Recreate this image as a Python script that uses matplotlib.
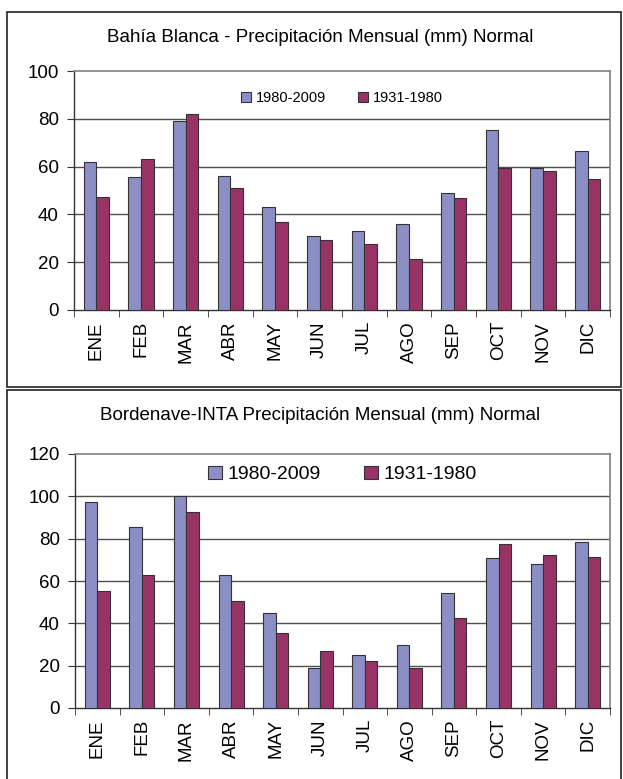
import matplotlib
matplotlib.use("Agg")
import matplotlib.pyplot as plt
from matplotlib.patches import Rectangle
import numpy as np

plt.rcParams['font.family'] = ['Liberation Sans', 'DejaVu Sans']

months = ["ENE", "FEB", "MAR", "ABR", "MAY", "JUN", "JUL", "AGO", "SEP", "OCT", "NOV", "DIC"]
series_names = ["1980-2009", "1931-1980"]

bahia_1980_2009 = [62, 55.6, 79, 56.2, 43, 30.8, 32.9, 36, 48.8, 75.3, 59.4, 66.4]
bahia_1931_1980 = [47.3, 63.2, 82.1, 50.9, 36.7, 29.3, 27.7, 21.3, 46.7, 59.4, 58.3, 54.7]

borde_1980_2009 = [97.3, 85.6, 100, 62.7, 44.8, 18.8, 25.2, 29.8, 54.5, 70.8, 67.8, 78.6]
borde_1931_1980 = [55.2, 62.7, 92.7, 50.6, 35.6, 27.0, 22.4, 18.8, 42.4, 77.5, 72.3, 71.3]

title_top = "Bahía Blanca - Precipitación Mensual (mm) Normal"
title_bot = "Bordenave-INTA Precipitación Mensual (mm) Normal"

c_blue = "#8c8fc6"
c_red = "#993366"

W, H = 623, 779
fig = plt.figure(figsize=(W / 100, H / 100), dpi=100)

def fx(x):
    return x / W

def fy(y):
    return 1 - y / H

# panel boxes
fig.patches.append(Rectangle((fx(7), fy(387)), fx(614), fy(12) - fy(387),
                             transform=fig.transFigure, fill=False, edgecolor='#222222', lw=1.2))
fig.patches.append(Rectangle((fx(7), fy(790)), fx(614), fy(390) - fy(790),
                             transform=fig.transFigure, fill=False, edgecolor='#222222', lw=1.2,
                             clip_on=False))


def panel(rect, v1, v2, ymax, ystep, title, title_y, legend_y, legend_fs):
    ax = fig.add_axes(rect)
    x = np.arange(len(months))
    bw = 0.28
    ax.bar(x - bw / 2, v1, bw, color=c_blue, edgecolor='#333333', lw=0.8, label=series_names[0], zorder=3)
    ax.bar(x + bw / 2, v2, bw, color=c_red, edgecolor='#333333', lw=0.8, label=series_names[1], zorder=3)
    ax.set_xlim(-0.5, len(months) - 0.5)
    ax.set_ylim(0, ymax)
    ticks = np.arange(0, ymax + 1, ystep)
    ax.set_yticks(ticks)
    ax.set_yticklabels([str(int(t)) for t in ticks], fontsize=13.5)
    for t in ticks[1:-1]:
        ax.axhline(t, color='#505050', lw=1.0, zorder=1)
    ax.set_xticks(x)
    ax.set_xticklabels(months, rotation=90, fontsize=13.5)
    ax.set_xticks(np.arange(-0.5, len(months)), minor=True)
    ax.tick_params(axis='x', which='major', length=0, pad=8)
    ax.tick_params(axis='x', which='minor', length=5, direction='out', color='#333333')
    ax.tick_params(axis='y', length=5, direction='out', color='#333333', pad=6)
    for s in ['top', 'right']:
        ax.spines[s].set_color('#808080')
        ax.spines[s].set_linewidth(1.2)
    for s in ['left', 'bottom']:
        ax.spines[s].set_color('#333333')
        ax.spines[s].set_linewidth(1.0)
    fig.text(fx(320), fy(title_y), title, ha='center', va='center', fontsize=13.5)
    ax.legend(loc='center', bbox_to_anchor=(0.5, legend_y), ncol=2, frameon=False,
              fontsize=legend_fs, handlelength=0.7, handleheight=0.7,
              handletextpad=0.3, columnspacing=2.2, borderaxespad=0)
    return ax

panel([fx(74), fy(310), fx(610) - fx(74), fy(71) - fy(310)],
      bahia_1980_2009, bahia_1931_1980, 100, 20, title_top, 38, 0.887, 10.5)

panel([fx(75), fy(708), fx(610) - fx(75), fy(454) - fy(708)],
      borde_1980_2009, borde_1931_1980, 120, 20, title_bot, 415, 0.92, 14)

fig.savefig("out.png", dpi=100)
